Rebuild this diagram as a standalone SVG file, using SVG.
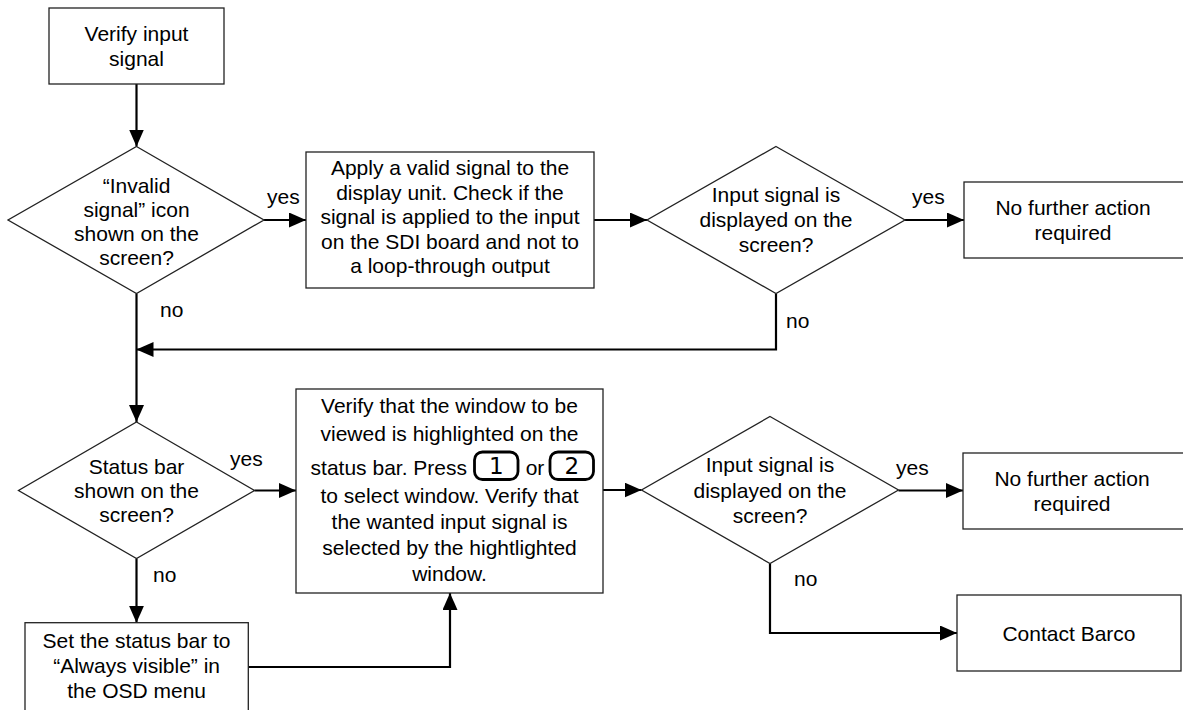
<svg xmlns="http://www.w3.org/2000/svg" width="1183" height="710" viewBox="0 0 1183 710">
<defs>
<marker id="ah" markerUnits="userSpaceOnUse" markerWidth="17" markerHeight="15" refX="17" refY="7.5" orient="auto">
<path d="M0,0 L17,7.5 L0,15 z" fill="#000"/>
</marker>
<style>
.shape{fill:#fff;stroke:#222;stroke-width:1.3}
.t{font-family:'Liberation Sans',Arial,sans-serif;font-size:21px;fill:#000;text-anchor:middle}
.lbl{font-family:'Liberation Sans',Arial,sans-serif;font-size:21px;fill:#000}
.c{fill:none;stroke:#000;stroke-width:2.2;marker-end:url(#ah)}
.key{fill:#fff;stroke:#000;stroke-width:2.8}
.kt{font-family:'DejaVu Sans','Liberation Sans',sans-serif;font-size:23px;fill:#000;text-anchor:middle}
</style>
</defs>
<rect width="1183" height="710" fill="#fff"/>
<g id="connectors">
<path class="c" d="M136.5,84 V146.5"/>
<path class="c" d="M264,220 H306"/>
<path class="c" d="M594,220 H647"/>
<path class="c" d="M905,220 H964"/>
<path class="c" d="M776,293.5 V349.5 H136.5"/>
<path class="c" d="M136.5,293.5 V422"/>
<path class="c" d="M254.5,490.5 H296"/>
<path class="c" d="M136.5,558.5 V622.7"/>
<path class="c" d="M248.3,667 H450 V593"/>
<path class="c" d="M603,490 H641.5"/>
<path class="c" d="M898.5,490.5 H963"/>
<path class="c" d="M770,563.5 V633 H957"/>
<text class="lbl" x="267" y="204">yes</text>
<text class="lbl" x="160" y="317">no</text>
<text class="lbl" x="912" y="204">yes</text>
<text class="lbl" x="786" y="328">no</text>
<text class="lbl" x="230" y="466">yes</text>
<text class="lbl" x="153" y="582">no</text>
<text class="lbl" x="896" y="475">yes</text>
<text class="lbl" x="794" y="586">no</text>
</g>
<g id="verify-input">
<rect class="shape" x="49" y="8" width="175" height="76"/>
<text class="t" x="136.5" y="41">Verify input</text>
<text class="t" x="136.5" y="66">signal</text>
</g>
<g id="invalid-signal">
<polygon class="shape" points="136.5,146.5 264,220 136.5,293.5 8,220"/>
<text class="t" x="136.5" y="193">“Invalid</text>
<text class="t" x="136.5" y="217">signal” icon</text>
<text class="t" x="136.5" y="241">shown on the</text>
<text class="t" x="136.5" y="265">screen?</text>
</g>
<g id="apply-valid">
<rect class="shape" x="306" y="152" width="288" height="136"/>
<text class="t" x="450" y="175">Apply a valid signal to the</text>
<text class="t" x="450" y="199.5">display unit. Check if the</text>
<text class="t" x="450" y="224">signal is applied to the input</text>
<text class="t" x="450" y="248.5">on the SDI board and not to</text>
<text class="t" x="450" y="273">a loop-through output</text>
</g>
<g id="input-displayed-1">
<polygon class="shape" points="776,146.5 905,220 776,293.5 647,220"/>
<text class="t" x="776" y="202">Input signal is</text>
<text class="t" x="776" y="227">displayed on the</text>
<text class="t" x="776" y="252">screen?</text>
</g>
<g id="no-action-1">
<rect class="shape" x="964" y="182" width="230" height="76"/>
<text class="t" x="1073" y="215">No further action</text>
<text class="t" x="1073" y="240">required</text>
</g>
<g id="status-bar-shown">
<polygon class="shape" points="136.5,422 254.5,490.5 136.5,558.5 18.5,490.5"/>
<text class="t" x="136.5" y="473.5">Status bar</text>
<text class="t" x="136.5" y="497.5">shown on the</text>
<text class="t" x="136.5" y="521.5">screen?</text>
</g>
<g id="verify-window">
<rect class="shape" x="296" y="389" width="307" height="204"/>
<text class="t" x="449.5" y="413">Verify that the window to be</text>
<text class="t" x="449.5" y="441">viewed is highlighted on the</text>
<text class="lbl" x="467" y="475" text-anchor="end">status bar. Press</text>
<rect class="key" x="474.5" y="452" width="43.5" height="27.5" rx="8"/>
<text class="kt" x="496.3" y="474">1</text>
<text class="t" x="535" y="475">or</text>
<rect class="key" x="550" y="452" width="43.5" height="27.5" rx="8"/>
<text class="kt" x="571.8" y="474">2</text>
<text class="t" x="449.5" y="503">to select window. Verify that</text>
<text class="t" x="449.5" y="529">the wanted input signal is</text>
<text class="t" x="449.5" y="555">selected by the hightlighted</text>
<text class="t" x="449.5" y="581">window.</text>
</g>
<g id="set-status-bar">
<rect class="shape" x="25" y="622.7" width="223.3" height="100"/>
<text class="t" x="136.6" y="648">Set the status bar to</text>
<text class="t" x="136.6" y="673">“Always visible” in</text>
<text class="t" x="136.6" y="698">the OSD menu</text>
</g>
<g id="input-displayed-2">
<polygon class="shape" points="770,416.5 898.5,490 770,563.5 641.5,490"/>
<text class="t" x="770" y="472">Input signal is</text>
<text class="t" x="770" y="497.5">displayed on the</text>
<text class="t" x="770" y="523">screen?</text>
</g>
<g id="no-action-2">
<rect class="shape" x="963" y="453" width="230" height="76"/>
<text class="t" x="1072" y="486">No further action</text>
<text class="t" x="1072" y="511">required</text>
</g>
<g id="contact-barco">
<rect class="shape" x="957" y="595" width="224" height="76"/>
<text class="t" x="1069" y="640.5">Contact Barco</text>
</g>
</svg>
